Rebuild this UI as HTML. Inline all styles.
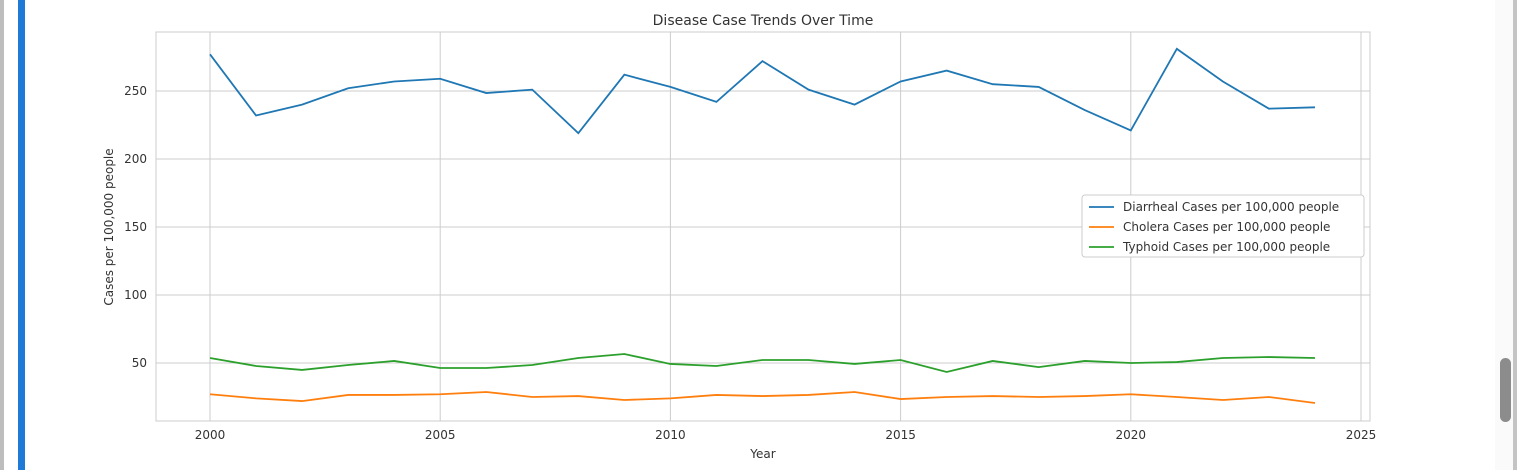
<!DOCTYPE html>
<html><head><meta charset="utf-8"><style>
body{margin:0;width:1517px;height:470px;overflow:hidden;background:#fff;font-family:"Liberation Sans","DejaVu Sans",sans-serif;position:relative}
</style></head><body>
<div style="position:absolute;left:0;top:0;width:4px;height:470px;background:#bdbdbd"></div>
<div style="position:absolute;left:18px;top:0;width:7px;height:470px;background:#1e7ad6"></div>
<div style="position:absolute;left:1495px;top:0;width:18px;height:470px;background:#fafafa"></div>
<div style="position:absolute;left:1513px;top:0;width:4px;height:470px;background:#c4c4c4"></div>
<div style="position:absolute;left:1500px;top:358px;width:11px;height:64px;border-radius:6px;background:#8c8c8c"></div>
<svg id="chart" width="1517" height="470" style="position:absolute;left:0;top:0" font-family="DejaVu Sans, Liberation Sans, sans-serif"></svg>
<script>
const years=[2000,2001,2002,2003,2004,2005,2006,2007,2008,2009,2010,2011,2012,2013,2014,2015,2016,2017,2018,2019,2020,2021,2022,2023,2024];
const diarrheal=[277,232,240,252,257,259,248.5,251,219,262,253,242,272,251,240,257,265,255,253,236,221,281,257,237,238];
const cholera=[27,24,22,26.5,26.5,27,28.7,25,25.7,22.8,24,26.5,25.7,26.5,28.7,23.5,25,25.7,25,25.7,27,25,22.8,25,20.6];
const typhoid=[53.7,47.8,44.9,48.5,51.5,46.3,46.3,48.5,53.7,56.6,49.3,47.8,52.2,52.2,49.3,52.2,43.4,51.5,47,51.5,50,50.7,53.7,54.4,53.7];
const xTicks=[2000,2005,2010,2015,2020,2025];
const yTicks=[50,100,150,200,250];
const seriesNames=["Diarrheal Cases per 100,000 people","Cholera Cases per 100,000 people","Typhoid Cases per 100,000 people"];
const colors=["#1f77b4","#ff7f0e","#2ca02c"];
const L=156,R=1370,T=32,B=421;
const x=v=>210+(v-2000)*(1361-210)/25;
const y=v=>431-v*1.36;
const svg=document.getElementById('chart');const NS='http://www.w3.org/2000/svg';
function mk(t,a,p){const e=document.createElementNS(NS,t);for(const k in a)e.setAttribute(k,a[k]);(p||svg).appendChild(e);return e;}
xTicks.forEach(t=>{const l=mk('line',{x1:x(t),x2:x(t),y1:T,y2:B,stroke:'#ccc','stroke-width':1});

const tx=mk('text',{x:x(t),y:439,'text-anchor':'middle','font-size':12,fill:'#333'});tx.textContent=t;
});
yTicks.forEach(t=>{const l=mk('line',{x1:L,x2:R,y1:y(t),y2:y(t),stroke:'#ccc','stroke-width':1});

const tx=mk('text',{x:147,y:y(t)+4,'text-anchor':'end','font-size':12,fill:'#333'});tx.textContent=t;
});
const fr=mk('rect',{x:L,y:T,width:R-L,height:B-T,fill:'none',stroke:'#ccc'});

[diarrheal,cholera,typhoid].forEach((s,i)=>{const p=mk('polyline',{points:s.map((v,j)=>x(years[j])+','+y(v)).join(' '),fill:'none',stroke:colors[i],'stroke-width':1.8});
});
const ti=mk('text',{x:763,y:25,'text-anchor':'middle','font-size':14,fill:'#333'});ti.textContent='Disease Case Trends Over Time';

const xl=mk('text',{x:763,y:458,'text-anchor':'middle','font-size':12,fill:'#333'});xl.textContent='Year';

const yl=mk('text',{x:0,y:0,'text-anchor':'middle','font-size':12,fill:'#333',transform:'translate(113,227) rotate(-90)'});yl.textContent='Cases per 100,000 people';

const lg=mk('rect',{x:1082,y:195,width:282,height:62,rx:3,fill:'#fff',stroke:'#ccc'});

seriesNames.forEach((n,i)=>{const yy=207+i*20;
const ln=mk('line',{x1:1089,x2:1114,y1:yy,y2:yy,stroke:colors[i],'stroke-width':1.8});

const t=mk('text',{x:1123,y:yy+4,'font-size':12,fill:'#333'});t.textContent=n;
});
</script>
</body></html>
